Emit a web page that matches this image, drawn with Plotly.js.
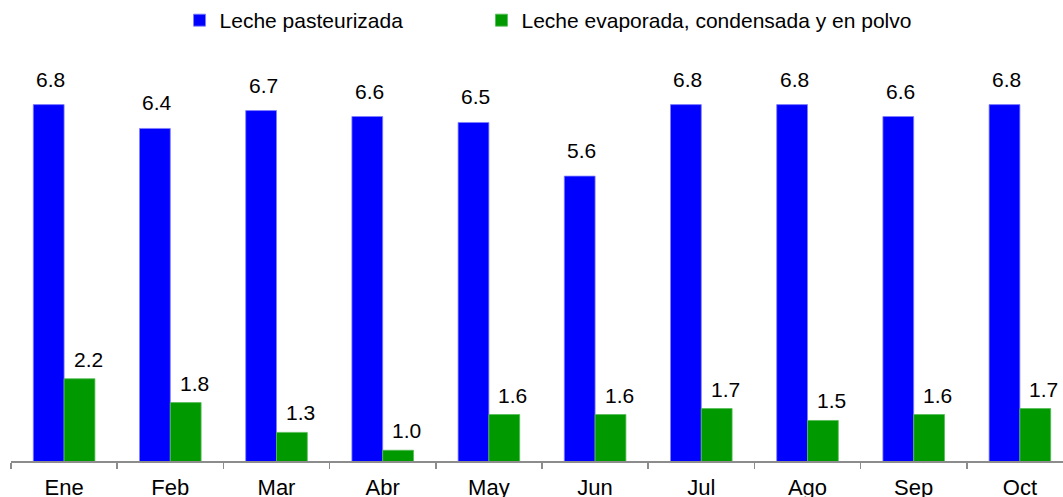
<!DOCTYPE html>
<html>
<head>
<meta charset="utf-8">
<script src="https://cdn.plot.ly/plotly-3.0.1.min.js"></script>
<style>
  html, body { margin: 0; padding: 0; overflow: hidden; background: #fff; }
</style>
</head>
<body>
<div id="milk_graph" style="width:1074px;height:497px;"></div>
<script>
/**
 * Colors
 */
const blue = "#0000FF";        // Leche pasteurizada
const green = "#009900";       // Leche evaporada...
const axisGrey = "#8C8C8C";

/**
 * Data
 */
const months = ['Ene', 'Feb', 'Mar', 'Abr', 'May', 'Jun', 'Jul', 'Ago', 'Sep', 'Oct'];
const pasteurizada = [6.8, 6.4, 6.7, 6.6, 6.5, 5.6, 6.8, 6.8, 6.6, 6.8];
const evaporada = [2.2, 1.8, 1.3, 1.0, 1.6, 1.6, 1.7, 1.5, 1.6, 1.7];
const seriesNames = ['Leche pasteurizada', 'Leche evaporada, condensada y en polvo'];

const font = 'Liberation Sans, Arial, sans-serif';

function valueLabels(values, xshift, yshift) {
    let out = [];
    for (let i = 0; i < values.length; i++) {
        out.push({
            x: months[i],
            y: values[i],
            xref: 'x',
            yref: 'y',
            text: values[i].toFixed(1),
            showarrow: false,
            yanchor: 'bottom',
            xshift: xshift,
            yshift: yshift,
            font: {family: font, size: 21, color: '#000'}
        });
    }
    return out;
}

function legendBox(x) {
    return {
        orientation: 'h',
        x: x,
        xanchor: 'left',
        y: 1,
        yanchor: 'top',
        font: {family: font, size: 21, color: '#000'},
        bgcolor: 'rgba(0,0,0,0)'
    };
}

function milkChart() {
    var pasteur = {
        x: months,
        y: pasteurizada,
        name: seriesNames[0],
        type: 'bar',
        legend: 'legend',
        hoverinfo: 'none',
        marker: {color: blue, line: {color: '#8080FF', width: 0.8}}
    };

    var evap = {
        x: months,
        y: evaporada,
        name: seriesNames[1],
        type: 'bar',
        legend: 'legend2',
        hoverinfo: 'none',
        marker: {color: green, line: {color: '#55BB55', width: 0.8}}
    };

    var annotations = valueLabels(pasteurizada, -13.5, 12)
        .concat(valueLabels(evaporada, 24, 6));

    var layout = {
        width: 1074,
        height: 497,
        margin: {l: 11, r: 1, t: 0, b: 36},
        paper_bgcolor: '#fff',
        plot_bgcolor: '#fff',
        font: {family: font, size: 20, color: '#000'},
        barmode: 'group',
        bargap: 0.42,
        bargroupgap: 0,
        showlegend: true,
        legend: legendBox(0.1587),
        legend2: legendBox(0.443),
        xaxis: {
            type: 'category',
            showline: true,
            linecolor: axisGrey,
            linewidth: 2,
            ticks: 'outside',
            tickson: 'boundaries',
            ticklen: 6,
            tickwidth: 1.5,
            tickcolor: axisGrey,
            ticklabelstandoff: 6,
            showgrid: false,
            zeroline: false,
            tickfont: {family: font, size: 22, color: '#000'}
        },
        yaxis: {
            range: [0.82, 8.555],
            visible: false,
            showgrid: false,
            zeroline: false
        },
        annotations: annotations
    };

    Plotly.newPlot('milk_graph', [pasteur, evap], layout, {displayModeBar: false, staticPlot: true});
}

milkChart();
</script>
</body>
</html>
